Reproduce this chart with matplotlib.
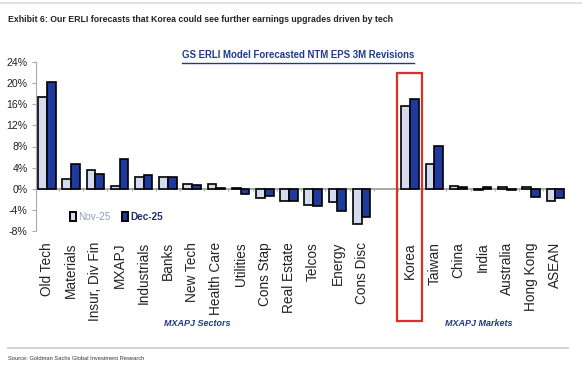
import matplotlib
matplotlib.use("Agg")
import matplotlib.pyplot as plt
from matplotlib.patches import Rectangle
import numpy as np

categories = ["Old Tech", "Materials", "Insur, Div Fin", "MXAPJ", "Industrials", "Banks",
              "New Tech", "Health Care", "Utilities", "Cons Stap", "Real Estate", "Telcos",
              "Energy", "Cons Disc", "", "Korea", "Taiwan", "China", "India", "Australia",
              "Hong Kong", "ASEAN"]
nov25 = [17.4, 1.8, 3.6, 0.6, 2.3, 2.3, 0.9, 0.9, 0.2, -1.8, -2.3, -3.0, -2.6, -6.6, np.nan,
         15.7, 4.6, 0.5, -0.3, 0.3, 0.4, -2.3]
dec25 = [20.2, 4.6, 2.8, 5.6, 2.6, 2.3, 0.7, 0.1, -0.9, -1.3, -2.4, -3.3, -4.3, -5.4, np.nan,
         16.9, 8.1, 0.4, 0.3, -0.3, -1.5, -1.8]
yticks = [-8, -4, 0, 4, 8, 12, 16, 20, 24]
series_names = ["Nov-25", "Dec-25"]

NOV_C = "#d5dbef"
DEC_C = "#1f3a9c"
BLUE_T = "#1f3a8a"
FONT = ["Liberation Sans", "DejaVu Sans"]

W, H = 582, 373
fig = plt.figure(figsize=(W / 100, H / 100), dpi=100)
renderer = fig.canvas.get_renderer()


def fx(px):
    return px / W


def fy(py):
    return 1 - py / H


def fit(t, width_px):
    """Scale a text's font size so its rendered width matches the given width."""
    for _ in range(3):
        w = t.get_window_extent(renderer=renderer).width
        t.set_fontsize(t.get_fontsize() * width_px / w)


ax = fig.add_axes([fx(36), fy(231), fx(565) - fx(36), fy(62) - fy(231)])
x = np.arange(len(categories))
bw = 0.36
ax.bar(x - bw / 2, nov25, bw, color=NOV_C, edgecolor="black", linewidth=1.2, zorder=3)
ax.bar(x + bw / 2, dec25, bw, color=DEC_C, edgecolor="black", linewidth=1.2, zorder=3)

ax.set_xlim(-0.45, len(categories) - 0.6)
ax.set_ylim(-8, 24)
ax.set_yticks(yticks)
ax.set_yticklabels([f"{v}%" for v in yticks], family=FONT, fontsize=7.6, color="#222222")
ax.tick_params(axis="y", length=3, color="#aaaaaa", pad=3)
for s in ["top", "right", "bottom"]:
    ax.spines[s].set_visible(False)
ax.spines["left"].set_color("#aaaaaa")
ax.axhline(0, color="#999999", linewidth=1.2, zorder=2)
ax.vlines(x[:-1] + 0.5, -0.5, 0, color="#aaaaaa", linewidth=0.8, zorder=2)

ax.set_xticks(x)
ax.set_xticklabels(categories, rotation=90, family=FONT, fontsize=9.8, va="top", color="#222222")
ax.tick_params(axis="x", length=0, pad=8)

# legend
leg = ax.legend(handles=[Rectangle((0, 0), 1, 1, facecolor=NOV_C, edgecolor="black", lw=1.4),
                         Rectangle((0, 0), 1, 1, facecolor=DEC_C, edgecolor="black", lw=1.4)],
                labels=series_names, loc="center left",
                bbox_to_anchor=(fx(73) - fx(36), (fy(217) - fy(231)) / (fy(62) - fy(231))),
                bbox_transform=ax.transAxes, ncol=2, frameon=False, handlelength=0.6,
                handleheight=0.9, handletextpad=0.2, columnspacing=1.2, borderpad=0,
                borderaxespad=0, prop={"family": FONT, "size": 7.2})
for t, c in zip(leg.get_texts(), ["#8c9cc4", "#1f2f6e"]):
    t.set_color(c)
    if c == "#1f2f6e":
        t.set_fontweight("bold")

# red highlight box around Korea
fig.add_artist(Rectangle((fx(397), fy(321)), fx(422) - fx(397), fy(73) - fy(321),
                         transform=fig.transFigure, fill=False, edgecolor="#d9302a", lw=1.6))

# titles
fig.add_artist(plt.Line2D([fx(0), fx(582)], [fy(3), fy(3)], color="#dddddd", lw=1.2))
t1 = fig.text(fx(8), fy(20),
              "Exhibit 6: Our ERLI forecasts that Korea could see further earnings upgrades driven by tech",
              family=FONT, fontsize=6.2, fontweight="bold", color="#222222", va="center", ha="left")
fit(t1, 385)
t2 = fig.text(fx(298), fy(55), "GS ERLI Model Forecasted NTM EPS 3M Revisions",
              family=FONT, fontsize=6.6, fontweight="bold", color=BLUE_T, va="center", ha="center")
fit(t2, 232)
bb = t2.get_window_extent(renderer=renderer)
fig.add_artist(plt.Line2D([bb.x0 / W, bb.x1 / W], [fy(62.5), fy(62.5)], color=BLUE_T, lw=1.0))

t3 = fig.text(fx(197), fy(324), "MXAPJ Sectors", family=FONT, fontsize=6.2, fontweight="bold",
              style="italic", color=BLUE_T, ha="center", va="center")
fit(t3, 66)
t4 = fig.text(fx(479), fy(323), "MXAPJ Markets", family=FONT, fontsize=6.2, fontweight="bold",
              style="italic", color=BLUE_T, ha="center", va="center")
fit(t4, 67)

fig.add_artist(plt.Line2D([fx(8), fx(568)], [fy(348), fy(348)], color="#cccccc", lw=1.2))
t5 = fig.text(fx(8), fy(358), "Source: Goldman Sachs Global Investment Research", family=FONT,
              fontsize=4.2, color="#333333", ha="left", va="center")
fit(t5, 136)

fig.savefig("out.png", dpi=100)
